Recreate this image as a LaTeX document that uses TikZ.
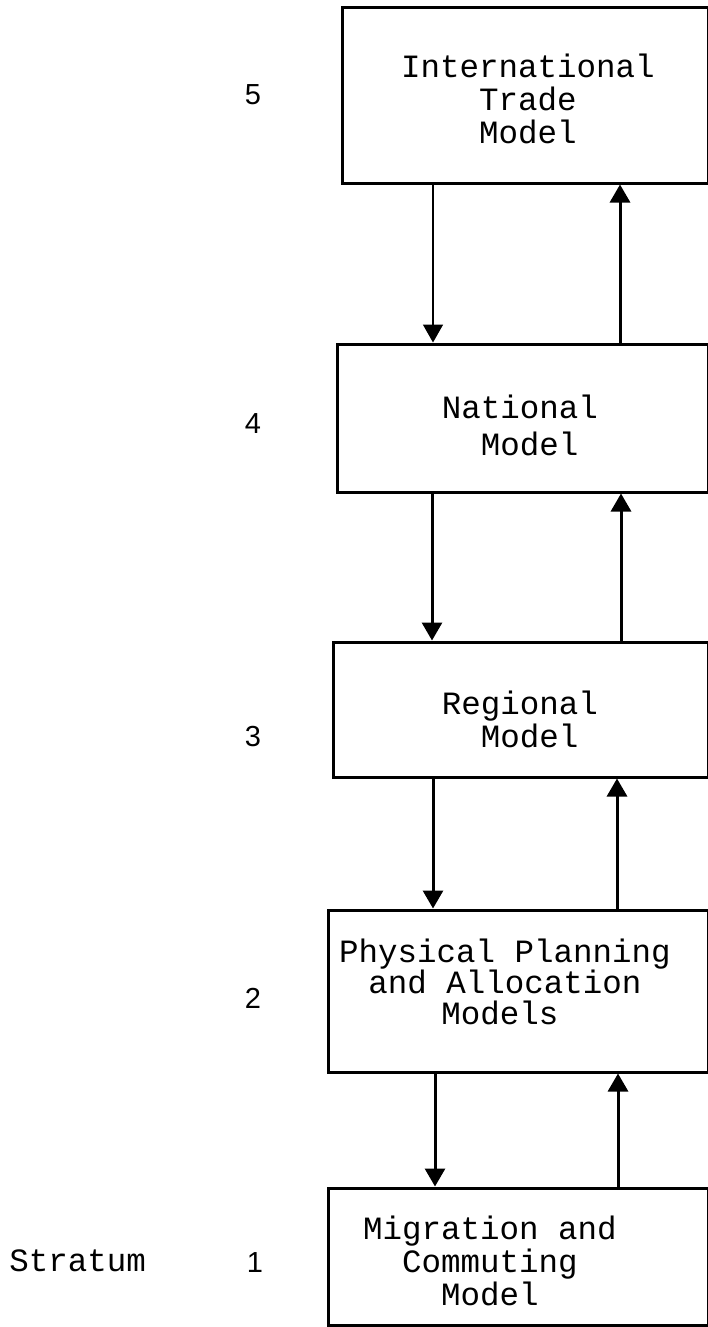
\documentclass[tikz,border=0pt]{standalone}
\usepackage{fontspec}
\setmonofont{Liberation Mono}
\newfontfamily\labfont{Liberation Sans}
\usetikzlibrary{arrows.meta}
\begin{document}
\begin{tikzpicture}[x=1pt,y=-1pt,
  box/.style={draw, line width=3pt, rectangle, inner sep=0pt},
  txt/.style={font=\ttfamily\fontsize{32.5}{33}\selectfont, align=center, inner sep=0pt},
  lab/.style={font=\labfont\fontsize{29}{32}\selectfont, inner sep=0pt, anchor=base},
  stratlab/.style={font=\ttfamily\fontsize{32.5}{33}\selectfont, inner sep=0pt, anchor=base east},
  link/.style={line width=3pt, -{Triangle[width=20pt,length=18pt]}},
  thinlink/.style={line width=1.6pt, -{Triangle[width=20pt,length=18pt]}}]
\useasboundingbox (0,0) rectangle (708,1327);
\fill[white] (0,0) rectangle (708,1327);

% boxes
\node[box, minimum width=366pt, minimum height=175pt] (b5) at (525,95.5) {};
\node[box, minimum width=371pt, minimum height=148pt] (b4) at (522.5,418) {};
\node[box, minimum width=375pt, minimum height=135pt] (b3) at (520.5,709.5) {};
\node[box, minimum width=380pt, minimum height=162pt] (b2) at (518,991) {};
\node[box, minimum width=380pt, minimum height=137pt] (b1) at (518,1256.5) {};

% box texts
\node[txt] (t5) at (528,99) {International\\Trade\\Model};
\node[txt] (t4) at (520,425) {National\\[4pt]\hspace*{0.6em}Model};
\node[txt] (t3) at (520,719) {Regional\\\hspace*{0.6em}Model};
\node[txt] (t2) at (505,982) {Physical Planning\\[-2pt]and Allocation\hspace*{10pt}\\[-2pt]Models\hspace*{10pt}};
\node[txt] (t1) at (490,1261) {Migration and\\Commuting\\Model};

% stratum labels
\node[lab] (s5) at (253,105) {5};
\node[lab] (s4) at (253,433) {4};
\node[lab] (s3) at (253,746) {3};
\node[lab] (s2) at (253,1008) {2};
\node[lab] (s1) at (255,1272) {1};
\node[stratlab] (st) at (146,1271) {Stratum};

% arrow columns
\coordinate (d5) at (433,0);
\coordinate (d4) at (432,0);
\coordinate (d3) at (433,0);
\coordinate (d2) at (435,0);
\coordinate (u5) at (620,0);
\coordinate (u4) at (621,0);
\coordinate (u3) at (617,0);
\coordinate (u2) at (618,0);

% connectors
\draw[thinlink] (b5.south -| d5) -- (b4.north -| d5);
\draw[link] (b4.north -| u5) -- (b5.south -| u5);
\draw[link] (b4.south -| d4) -- (b3.north -| d4);
\draw[link] (b3.north -| u4) -- (b4.south -| u4);
\draw[link] (b3.south -| d3) -- (b2.north -| d3);
\draw[link] (b2.north -| u3) -- (b3.south -| u3);
\draw[link] (b2.south -| d2) -- (b1.north -| d2);
\draw[link] (b1.north -| u2) -- (b2.south -| u2);
\end{tikzpicture}
\end{document}
